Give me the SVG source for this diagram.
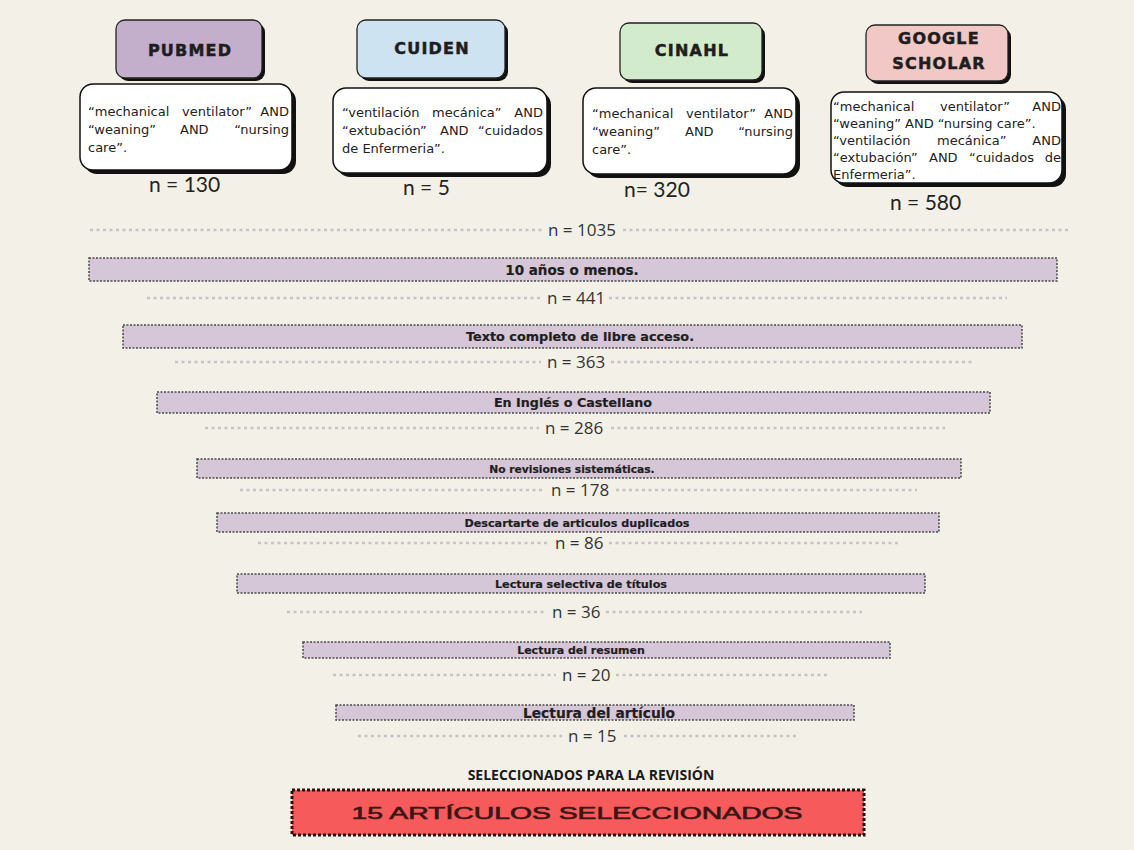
<svg xmlns="http://www.w3.org/2000/svg" width="1134" height="850" viewBox="0 0 1134 850">
<style>
.title{font-family:"DejaVu Sans",sans-serif;font-weight:bold;font-size:16px;letter-spacing:1.2px;fill:#1e1e1e;stroke:#1e1e1e;stroke-width:0.5;text-anchor:middle}
.q{font-family:"DejaVu Sans",sans-serif;font-size:13px;fill:#222}
.qe{font-family:"DejaVu Sans",sans-serif;font-size:13px;fill:#222;text-anchor:end}
.hn{font-family:Lato,"Open Sans",sans-serif;font-size:21px;fill:#222}
.n{font-family:"Open Sans",sans-serif;font-size:17px;fill:#333}
.dots{stroke:#c4c4c4;stroke-width:2.5;stroke-dasharray:3 3.5;fill:none}
.bar{fill:#d6c7d8;stroke:#4a4a4a;stroke-width:1.5;stroke-dasharray:2 1.5}
.bt{font-family:"DejaVu Sans",sans-serif;font-weight:bold;fill:#1e1e1e;stroke:#1e1e1e;stroke-width:0.2;text-anchor:middle}
.shadow{fill:#111}
.qbox{fill:#fff;stroke:#111;stroke-width:1.5}
.hbox{stroke:#222;stroke-width:1.3}
</style>
<rect x="0" y="0" width="1134" height="850" fill="#f3f0e7"/>

<g id="pubmed">
<rect class="shadow" x="119" y="23" width="146" height="58" rx="9"/>
<rect class="hbox" x="116" y="20" width="146" height="58" rx="9" fill="#c3aecb"/>
<text class="title" x="190" y="56">PUBMED</text>
</g>
<g id="pubmed-query">
<rect class="shadow" x="84" y="88" width="212" height="86" rx="13"/>
<rect class="qbox" x="80" y="84" width="212" height="86" rx="13"/>
<text class="q" x="88" y="116">“mechanical</text><text class="q" x="182" y="116">ventilator”</text><text class="qe" x="289" y="116">AND</text>
<text class="q" x="88" y="134">“weaning”</text><text class="q" x="180" y="134">AND</text><text class="qe" x="289" y="134">“nursing</text>
<text class="q" x="88" y="152">care”.</text>
<text class="hn" x="149" y="192">n = 130</text>
</g>

<g id="cuiden">
<rect class="shadow" x="360" y="23" width="148" height="58" rx="9"/>
<rect class="hbox" x="357" y="20" width="148" height="58" rx="9" fill="#cde3f1"/>
<text class="title" x="432" y="54">CUIDEN</text>
</g>
<g id="cuiden-query">
<rect class="shadow" x="337" y="92" width="214" height="85" rx="13"/>
<rect class="qbox" x="333" y="88" width="214" height="85" rx="13"/>
<text class="q" x="342" y="117">“ventilación</text><text class="q" x="432" y="117">mecánica”</text><text class="qe" x="543" y="117">AND</text>
<text class="q" x="342" y="135">“extubación”</text><text class="q" x="440" y="135">AND</text><text class="qe" x="543" y="135">“cuidados</text>
<text class="q" x="342" y="153">de Enfermeria”.</text>
<text class="hn" x="403" y="195">n = 5</text>
</g>

<g id="cinahl">
<rect class="shadow" x="623" y="26" width="142" height="57" rx="9"/>
<rect class="hbox" x="620" y="23" width="142" height="57" rx="9" fill="#d3ebcd"/>
<text class="title" x="692" y="56">CINAHL</text>
</g>
<g id="cinahl-query">
<rect class="shadow" x="587" y="92" width="213" height="86" rx="13"/>
<rect class="qbox" x="583" y="88" width="213" height="86" rx="13"/>
<text class="q" x="592" y="118">“mechanical</text><text class="q" x="686" y="118">ventilator”</text><text class="qe" x="793" y="118">AND</text>
<text class="q" x="592" y="136">“weaning”</text><text class="q" x="685" y="136">AND</text><text class="qe" x="793" y="136">“nursing</text>
<text class="q" x="592" y="154">care”.</text>
<text class="hn" x="624" y="197">n= 320</text>
</g>

<g id="google-scholar">
<rect class="shadow" x="869" y="28" width="142" height="56" rx="9"/>
<rect class="hbox" x="866" y="25" width="142" height="56" rx="9" fill="#f2c8c7"/>
<text class="title" x="939" y="44">GOOGLE</text>
<text class="title" x="939" y="69">SCHOLAR</text>
</g>
<g id="google-scholar-query">
<rect class="shadow" x="835" y="96" width="231" height="91" rx="13"/>
<rect class="qbox" x="831" y="92" width="231" height="91" rx="13"/>
<text class="q" x="833" y="111">“mechanical</text><text class="q" x="940" y="111">ventilator”</text><text class="qe" x="1061" y="111">AND</text>
<text class="q" x="833" y="128">“weaning” AND “nursing care”.</text>
<text class="q" x="833" y="145">“ventilación</text><text class="q" x="937" y="145">mecánica”</text><text class="qe" x="1061" y="145">AND</text>
<text class="q" x="833" y="162">“extubación”</text><text class="q" x="929" y="162">AND</text><text class="q" x="969" y="162">“cuidados</text><text class="qe" x="1061" y="162">de</text>
<text class="q" x="833" y="179">Enfermeria”.</text>
<text class="hn" x="890" y="210">n = 580</text>
</g>

<g id="connectors">
<path class="dots" d="M90 230H542M623 230H1070"/>
<path class="dots" d="M147 298H541M609 298H1007"/>
<path class="dots" d="M175 362H541M611 362H972"/>
<path class="dots" d="M205 428H539M611 428H945"/>
<path class="dots" d="M240 490H545M616 490H917"/>
<path class="dots" d="M258 543H549M609 543H900"/>
<path class="dots" d="M287 612H546M606 612H862"/>
<path class="dots" d="M333 675H556M616 675H830"/>
<path class="dots" d="M358 736H562M624 736H798"/>
</g>

<g id="counts">
<text class="n" x="548" y="236">n = 1035</text>
<text class="n" x="547" y="304">n = 441</text>
<text class="n" x="547" y="368">n = 363</text>
<text class="n" x="545" y="434">n = 286</text>
<text class="n" x="551" y="496">n = 178</text>
<text class="n" x="555" y="549">n = 86</text>
<text class="n" x="552" y="618">n = 36</text>
<text class="n" x="562" y="681">n = 20</text>
<text class="n" x="568" y="742">n = 15</text>
</g>

<g id="filter-1">
<rect class="bar" x="89" y="258" width="968" height="23"/>
<text class="bt" x="572" y="274.5" font-size="13.5">10 años o menos.</text>
</g>
<g id="filter-2">
<rect class="bar" x="123" y="325" width="899" height="23"/>
<text class="bt" x="580" y="341" font-size="12.8">Texto completo de libre acceso.</text>
</g>
<g id="filter-3">
<rect class="bar" x="157" y="392" width="833" height="21"/>
<text class="bt" x="573" y="407" font-size="12.7">En Inglés o Castellano</text>
</g>
<g id="filter-4">
<rect class="bar" x="197" y="459" width="764" height="19"/>
<text class="bt" x="572" y="472.5" font-size="10.7">No revisiones sistemáticas.</text>
</g>
<g id="filter-5">
<rect class="bar" x="217" y="513" width="722" height="19"/>
<text class="bt" x="577" y="526.5" font-size="11.2">Descartarte de articulos duplicados</text>
</g>
<g id="filter-6">
<rect class="bar" x="237" y="574" width="688" height="19"/>
<text class="bt" x="581" y="587.5" font-size="11.2">Lectura selectiva de títulos</text>
</g>
<g id="filter-7">
<rect class="bar" x="303" y="642" width="587" height="16"/>
<text class="bt" x="581" y="654" font-size="11">Lectura del resumen</text>
</g>
<g id="filter-8">
<rect class="bar" x="336" y="705" width="518" height="15"/>
<text class="bt" x="599" y="718" font-size="13.8">Lectura del artículo</text>
</g>

<g id="result">
<text x="591" y="780" font-family="'Open Sans',sans-serif" font-weight="bold" font-size="14" fill="#1a1a1a" text-anchor="middle">SELECCIONADOS PARA LA REVISIÓN</text>
<rect x="292" y="790" width="572" height="45" fill="#f65a5a" stroke="#2a0f0f" stroke-width="3" stroke-dasharray="3 2"/>
<text x="577" y="819" font-family="'Liberation Sans',sans-serif" font-size="17" fill="#3b1616" stroke="#3b1616" stroke-width="0.6" text-anchor="middle" textLength="451" lengthAdjust="spacingAndGlyphs">15 ARTÍCULOS SELECCIONADOS</text>
</g>
</svg>
